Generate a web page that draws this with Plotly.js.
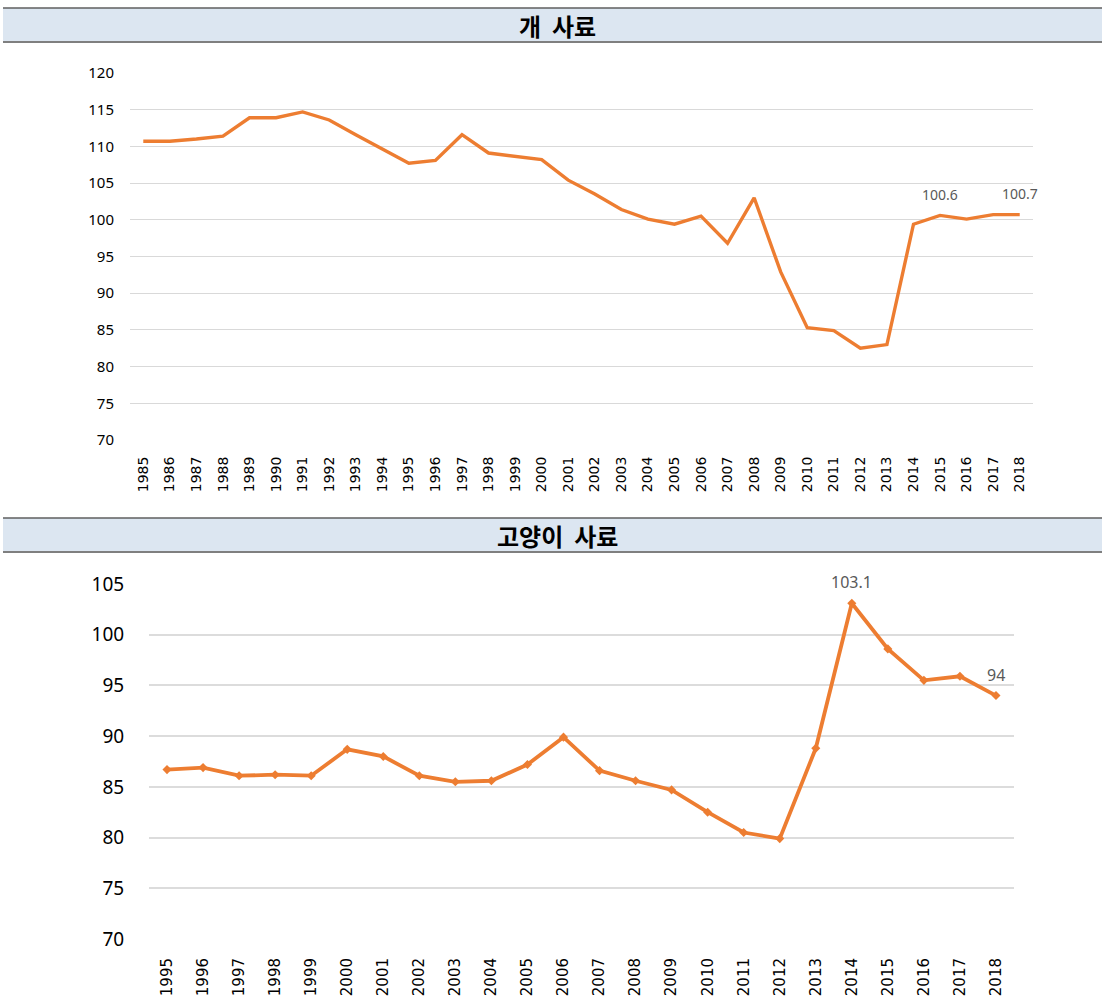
<!DOCTYPE html>
<html><head><meta charset="utf-8">
<script src="https://cdn.plot.ly/plotly-3.0.1.min.js"></script>
<style>html,body{margin:0;padding:0;background:#fff}#chart{width:1102px;height:1004px}</style>
</head><body><div id="chart"></div>
<script>
// ---- data ----
const dogTitle = '개\u00A0\u00A0사료';
const catTitle = '고양이\u00A0\u00A0사료';
const dogYears = ['1985','1986','1987','1988','1989','1990','1991','1992','1993','1994','1995','1996','1997','1998','1999','2000','2001','2002','2003','2004','2005','2006','2007','2008','2009','2010','2011','2012','2013','2014','2015','2016','2017','2018'];
const dogValues = [110.7,110.7,111.0,111.4,113.9,113.9,114.7,113.6,111.6,109.6,107.7,108.1,111.6,109.1,108.7,108.2,105.4,103.5,101.4,100.1,99.4,100.5,96.8,103.0,92.9,85.3,84.9,82.5,83.0,99.4,100.6,100.1,100.7,100.7];
const dogLabeled = ['2015','2018'];
const catYears = ['1995','1996','1997','1998','1999','2000','2001','2002','2003','2004','2005','2006','2007','2008','2009','2010','2011','2012','2013','2014','2015','2016','2017','2018'];
const catValues = [86.7,86.9,86.1,86.2,86.1,88.7,88.0,86.1,85.5,85.6,87.2,89.9,86.6,85.6,84.7,82.5,80.5,79.9,88.8,103.1,98.6,95.5,95.9,94.0];
const catLabeled = ['2014','2018'];
const dogTicks = [70,75,80,85,90,95,100,105,110,115,120];
const catTicks = [70,75,80,85,90,95,100,105];

// ---- layout helpers (pixel -> paper) ----
const W = 1102, H = 1004;
const px = x => x / W;
const py = y => 1 - y / H;
const orange = '#ED7D31';
const font = 'Noto Sans, DejaVu Sans, sans-serif';

// label text arrays built from data (blank where not labeled)
const dogText = dogYears.map((yr, i) => dogLabeled.includes(yr) ? String(dogValues[i]) : '');
const catText = catYears.map((yr, i) => catLabeled.includes(yr) ? String(catValues[i]) : '');

const traces = [
  {x: dogYears, y: dogValues, type: 'scatter', mode: 'lines', xaxis: 'x', yaxis: 'y',
   line: {color: orange, width: 3.4}, hoverinfo: 'x+y'},
  {x: catYears, y: catValues, type: 'scatter', mode: 'lines+markers', xaxis: 'x2', yaxis: 'y2',
   line: {color: orange, width: 3.8}, marker: {symbol: 'diamond', size: 7, color: orange}, hoverinfo: 'x+y'}
];

const annotations = [];
dogText.forEach((t, i) => {
  if (!t) return;
  annotations.push({x: i, y: dogValues[i], xref: 'x', yref: 'y', text: t,
    showarrow: false, yshift: 21, font: {family: font, size: 14, color: '#595959'}});
});
catText.forEach((t, i) => {
  if (!t) return;
  annotations.push({x: i, y: catValues[i], xref: 'x2', yref: 'y2', text: t,
    showarrow: false, yshift: 21, font: {family: font, size: 16, color: '#595959'}});
});
// title bars text
annotations.push({x: px(557), y: py(26), xref: 'paper', yref: 'paper', text: '<b>' + dogTitle + '</b>', showarrow: false,
  font: {family: 'Noto Sans CJK KR', size: 24, color: '#000'}, xanchor: 'center', yanchor: 'middle'});
annotations.push({x: px(557), y: py(535), xref: 'paper', yref: 'paper', text: '<b>' + catTitle + '</b>', showarrow: false,
  font: {family: 'Noto Sans CJK KR', size: 24, color: '#000'}, xanchor: 'center', yanchor: 'middle'});

const shapes = [];
[[8, 42], [518, 552]].forEach(([t, b]) => {
  shapes.push({type: 'rect', xref: 'paper', yref: 'paper', x0: px(3), x1: 1, y0: py(b), y1: py(t),
    fillcolor: '#DCE6F1', line: {width: 0}, layer: 'below'});
  shapes.push({type: 'line', xref: 'paper', yref: 'paper', x0: px(3), x1: 1, y0: py(t), y1: py(t),
    line: {color: '#5f5f5f', width: 1.5}});
  shapes.push({type: 'line', xref: 'paper', yref: 'paper', x0: px(3), x1: 1, y0: py(b), y1: py(b),
    line: {color: '#7f7f7f', width: 2}});
});

const layout = {
  width: W, height: H, margin: {l: 0, r: 0, t: 0, b: 0},
  paper_bgcolor: '#fff', plot_bgcolor: '#fff', showlegend: false,
  font: {family: font, color: '#000'},
  xaxis: {domain: [px(130), px(1033)], anchor: 'y', type: 'category', range: [-0.5, dogYears.length - 0.5],
    showgrid: false, zeroline: false, showline: false, tickangle: -90,
    ticks: 'outside', ticklen: 10, tickcolor: 'rgba(0,0,0,0)', tickfont: {size: 14, family: 'DejaVu Sans'}},
  yaxis: {domain: [py(440), py(73)], anchor: 'x', range: [70, 120], tickvals: dogTicks,
    showgrid: true, gridcolor: '#D9D9D9', gridwidth: 1, zeroline: false, showline: false,
    ticks: 'outside', ticklen: 12, tickcolor: 'rgba(0,0,0,0)', tickfont: {size: 15, family: font}},
  xaxis2: {domain: [px(149), px(1014)], anchor: 'y2', type: 'category', range: [-0.5, catYears.length - 0.5],
    showgrid: false, zeroline: false, showline: false, tickangle: -90,
    ticks: 'outside', ticklen: 12, tickcolor: 'rgba(0,0,0,0)', tickfont: {size: 15, family: 'DejaVu Sans'}},
  yaxis2: {domain: [py(939), py(584)], anchor: 'x2', range: [70, 105], tickvals: catTicks,
    showgrid: true, gridcolor: '#DCDCDC', gridwidth: 2, zeroline: false, showline: false,
    ticks: 'outside', ticklen: 20, tickcolor: 'rgba(0,0,0,0)', tickfont: {size: 19, family: font}},
  annotations: annotations, shapes: shapes
};

Plotly.newPlot('chart', traces, layout, {displayModeBar: false, staticPlot: true});
</script></body></html>
